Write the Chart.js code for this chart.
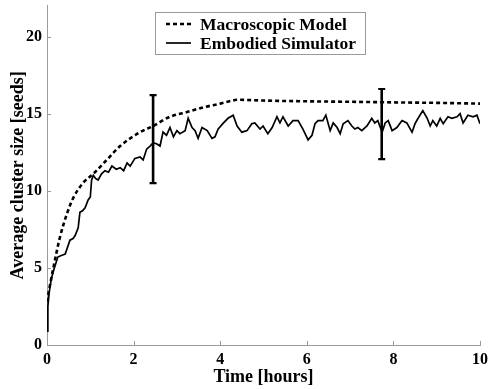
<!DOCTYPE html>
<html>
<head>
<meta charset="utf-8">
<script src="https://cdn.jsdelivr.net/npm/chart.js@4/dist/chart.umd.min.js"></script>
<style>
html,body{margin:0;padding:0;background:#fff;}
#wrap{width:489px;height:389px;}
</style>
</head>
<body>
<div id="wrap"><canvas id="c" width="489" height="389"></canvas></div>
<script>
const xTicks = [0, 2, 4, 6, 8, 10];
const yTicks = [0, 5, 10, 15, 20];

const macroX = [0, 0.05, 0.14, 0.3, 0.46, 0.6, 0.83, 1.07, 1.38, 1.69, 2.15, 2.45, 2.84, 3.23, 3.6, 4.0, 4.34, 4.4, 5, 6, 7, 8, 9, 10];
const macroY = [2.8, 3.6, 4.9, 7.0, 8.5, 9.5, 10.5, 11.1, 12.0, 12.9, 13.8, 14.2, 14.8, 15.1, 15.4, 15.65, 15.88, 15.9, 15.85, 15.8, 15.77, 15.73, 15.7, 15.65];

const simX = [0, 0.02, 0.05, 0.1, 0.17, 0.25, 0.33, 0.42, 0.53, 0.6, 0.65, 0.72, 0.76, 0.82, 0.88, 0.95, 1.0, 1.03, 1.07, 1.12,
  1.18, 1.26, 1.34, 1.42, 1.5, 1.6, 1.69, 1.77, 1.85, 1.92, 2.03, 2.15, 2.22, 2.3, 2.38, 2.45, 2.53, 2.61, 2.68, 2.76,
  2.84, 2.92, 3.0, 3.07, 3.19, 3.26, 3.35, 3.42, 3.49, 3.58, 3.7, 3.81, 3.88, 3.95, 4.06, 4.18, 4.3, 4.39, 4.5, 4.62,
  4.73, 4.8, 4.92, 4.99, 5.1, 5.2, 5.31, 5.38, 5.45, 5.57, 5.68, 5.8, 5.91, 6.03, 6.12, 6.19, 6.26, 6.37, 6.44, 6.54,
  6.61, 6.7, 6.77, 6.84, 6.95, 7.04, 7.11, 7.18, 7.27, 7.39, 7.5, 7.57, 7.64, 7.74, 7.81, 7.88, 7.97, 8.08, 8.2, 8.31,
  8.43, 8.5, 8.57, 8.68, 8.78, 8.85, 8.91, 9.0, 9.08, 9.15, 9.26, 9.35, 9.47, 9.54, 9.61, 9.72, 9.84, 9.93, 10];
const simY = [0.9, 2.5, 3.4, 4.3, 5.0, 5.7, 5.8, 5.9, 6.8, 6.9, 7.1, 7.6, 8.6, 8.7, 8.9, 9.4, 9.6, 10.7, 11.0, 10.8,
  10.7, 11.1, 11.3, 11.2, 11.6, 11.4, 11.5, 11.3, 11.8, 11.6, 12.1, 12.2, 12.0, 12.7, 12.9, 13.1, 13.05, 12.9, 13.8, 13.6,
  14.1, 13.5, 13.9, 13.7, 13.9, 14.7, 14.1, 13.9, 13.4, 14.1, 13.9, 13.4, 13.5, 14.0, 14.35, 14.7, 14.9, 14.2, 13.8, 13.9,
  14.35, 14.4, 14.0, 14.2, 13.7, 14.1, 14.8, 14.4, 14.8, 14.2, 14.55, 14.55, 14.0, 13.3, 13.6, 14.35, 14.55, 14.55, 14.9, 13.9,
  14.4, 14.1, 13.7, 14.35, 14.55, 14.2, 14.0, 14.1, 13.9, 14.2, 14.7, 14.4, 14.55, 13.8, 14.4, 14.55, 13.9, 14.1, 14.55, 14.4,
  13.8, 14.35, 14.7, 15.2, 14.7, 14.2, 14.55, 14.2, 14.7, 14.35, 14.8, 14.7, 14.8, 15.0, 14.4, 14.9, 14.8, 14.9, 14.35];

const errX = [2.45, 7.73];
const errLow = [10.5, 12.05];
const errHigh = [16.2, 16.6];

const seriesNames = ['Macroscopic Model', 'Embodied Simulator'];

const SERIF = '"Liberation Serif", "Times New Roman", serif';

const zip = (xs, ys) => xs.map((x, i) => ({x: x, y: ys[i]}));

const datasets = [
  {label: seriesNames[0], data: zip(macroX, macroY), borderColor: '#000', borderWidth: 2.6, borderDash: [4, 3],
   pointRadius: 0, cubicInterpolationMode: 'monotone', fill: false, order: 2},
  {label: seriesNames[1], data: zip(simX, simY), borderColor: '#000', borderWidth: 1.7,
   pointRadius: 0, tension: 0, fill: false, order: 1}
];
errX.forEach((x, i) => {
  datasets.push({label: '_err' + i, data: [{x: x, y: errLow[i]}, {x: x, y: errHigh[i]}],
    borderColor: '#000', borderWidth: 2.6, pointStyle: 'line', pointRadius: 3.5, pointBorderWidth: 2.2,
    pointBorderColor: '#000', pointHoverRadius: 3.5, fill: false, order: 0});
});

const inwardTicks = {
  id: 'inwardTicks',
  afterDraw(chart) {
    const {ctx, scales: {x, y}} = chart;
    ctx.save();
    ctx.strokeStyle = '#9a9a9a';
    ctx.lineWidth = 1;
    xTicks.forEach(v => {
      const px = Math.round(x.getPixelForValue(v)) + 0.5;
      ctx.beginPath(); ctx.moveTo(px, y.bottom); ctx.lineTo(px, y.bottom - 4); ctx.stroke();
    });
    yTicks.forEach(v => {
      const py = Math.round(y.getPixelForValue(v)) + 0.5;
      ctx.beginPath(); ctx.moveTo(x.left, py); ctx.lineTo(x.left + 4, py); ctx.stroke();
    });
    ctx.restore();
  }
};

const boxLegend = {
  id: 'boxLegend',
  afterDraw(chart) {
    const {ctx} = chart;
    const left = 155, top = 12, w = 210, h = 42;
    ctx.save();
    ctx.fillStyle = '#fff';
    ctx.fillRect(left, top, w, h);
    ctx.strokeStyle = '#9a9a9a';
    ctx.lineWidth = 1;
    ctx.strokeRect(left + 0.5, top + 0.5, w, h);
    ctx.font = 'bold 17.5px ' + SERIF;
    ctx.fillStyle = '#000';
    ctx.textBaseline = 'middle';
    [0, 1].forEach(i => {
      const ds = chart.data.datasets[i];
      const ly = top + 12 + i * 19;
      ctx.strokeStyle = '#000';
      ctx.lineWidth = ds.borderWidth;
      ctx.setLineDash(ds.borderDash || []);
      ctx.beginPath(); ctx.moveTo(left + 11, ly); ctx.lineTo(left + 36, ly); ctx.stroke();
      ctx.setLineDash([]);
      ctx.fillText(ds.label, left + 45, ly + 1);
    });
    ctx.restore();
  }
};

new Chart(document.getElementById('c'), {
  type: 'line',
  data: {datasets: datasets},
  plugins: [inwardTicks, boxLegend],
  options: {
    responsive: false,
    animation: false,
    events: [],
    layout: {padding: {top: 5, right: 9, left: 0, bottom: 0}},
    plugins: {legend: {display: false}, tooltip: {enabled: false}},
    scales: {
      x: {
        type: 'linear', min: 0, max: 10,
        afterBuildTicks: s => { s.ticks = xTicks.map(v => ({value: v})); },
        afterFit: s => { s.height = 44; s.paddingLeft = 0; s.paddingRight = 0; },
        grid: {display: true, drawOnChartArea: false, drawTicks: false},
        border: {display: true, color: '#9a9a9a', width: 1},
        ticks: {color: '#000', font: {family: SERIF, size: 16, weight: 'bold'}, padding: 5, maxRotation: 0},
        title: {display: true, text: 'Time [hours]', color: '#000', font: {family: SERIF, size: 18, weight: 'bold'}, padding: {top: 0, bottom: 1}}
      },
      y: {
        type: 'linear', min: 0, max: 22,
        afterBuildTicks: s => { s.ticks = yTicks.map(v => ({value: v})); },
        afterFit: s => { s.width = 47; s.paddingTop = 0; s.paddingBottom = 0; },
        grid: {display: true, drawOnChartArea: false, drawTicks: false},
        border: {display: true, color: '#9a9a9a', width: 1},
        ticks: {color: '#000', font: {family: SERIF, size: 16, weight: 'bold'}, padding: 5},
        title: {display: true, text: 'Average cluster size [seeds]', color: '#000', font: {family: SERIF, size: 18, weight: 'bold'}, padding: {top: 8, bottom: 0}}
      }
    }
  }
});
</script>
</body>
</html>
